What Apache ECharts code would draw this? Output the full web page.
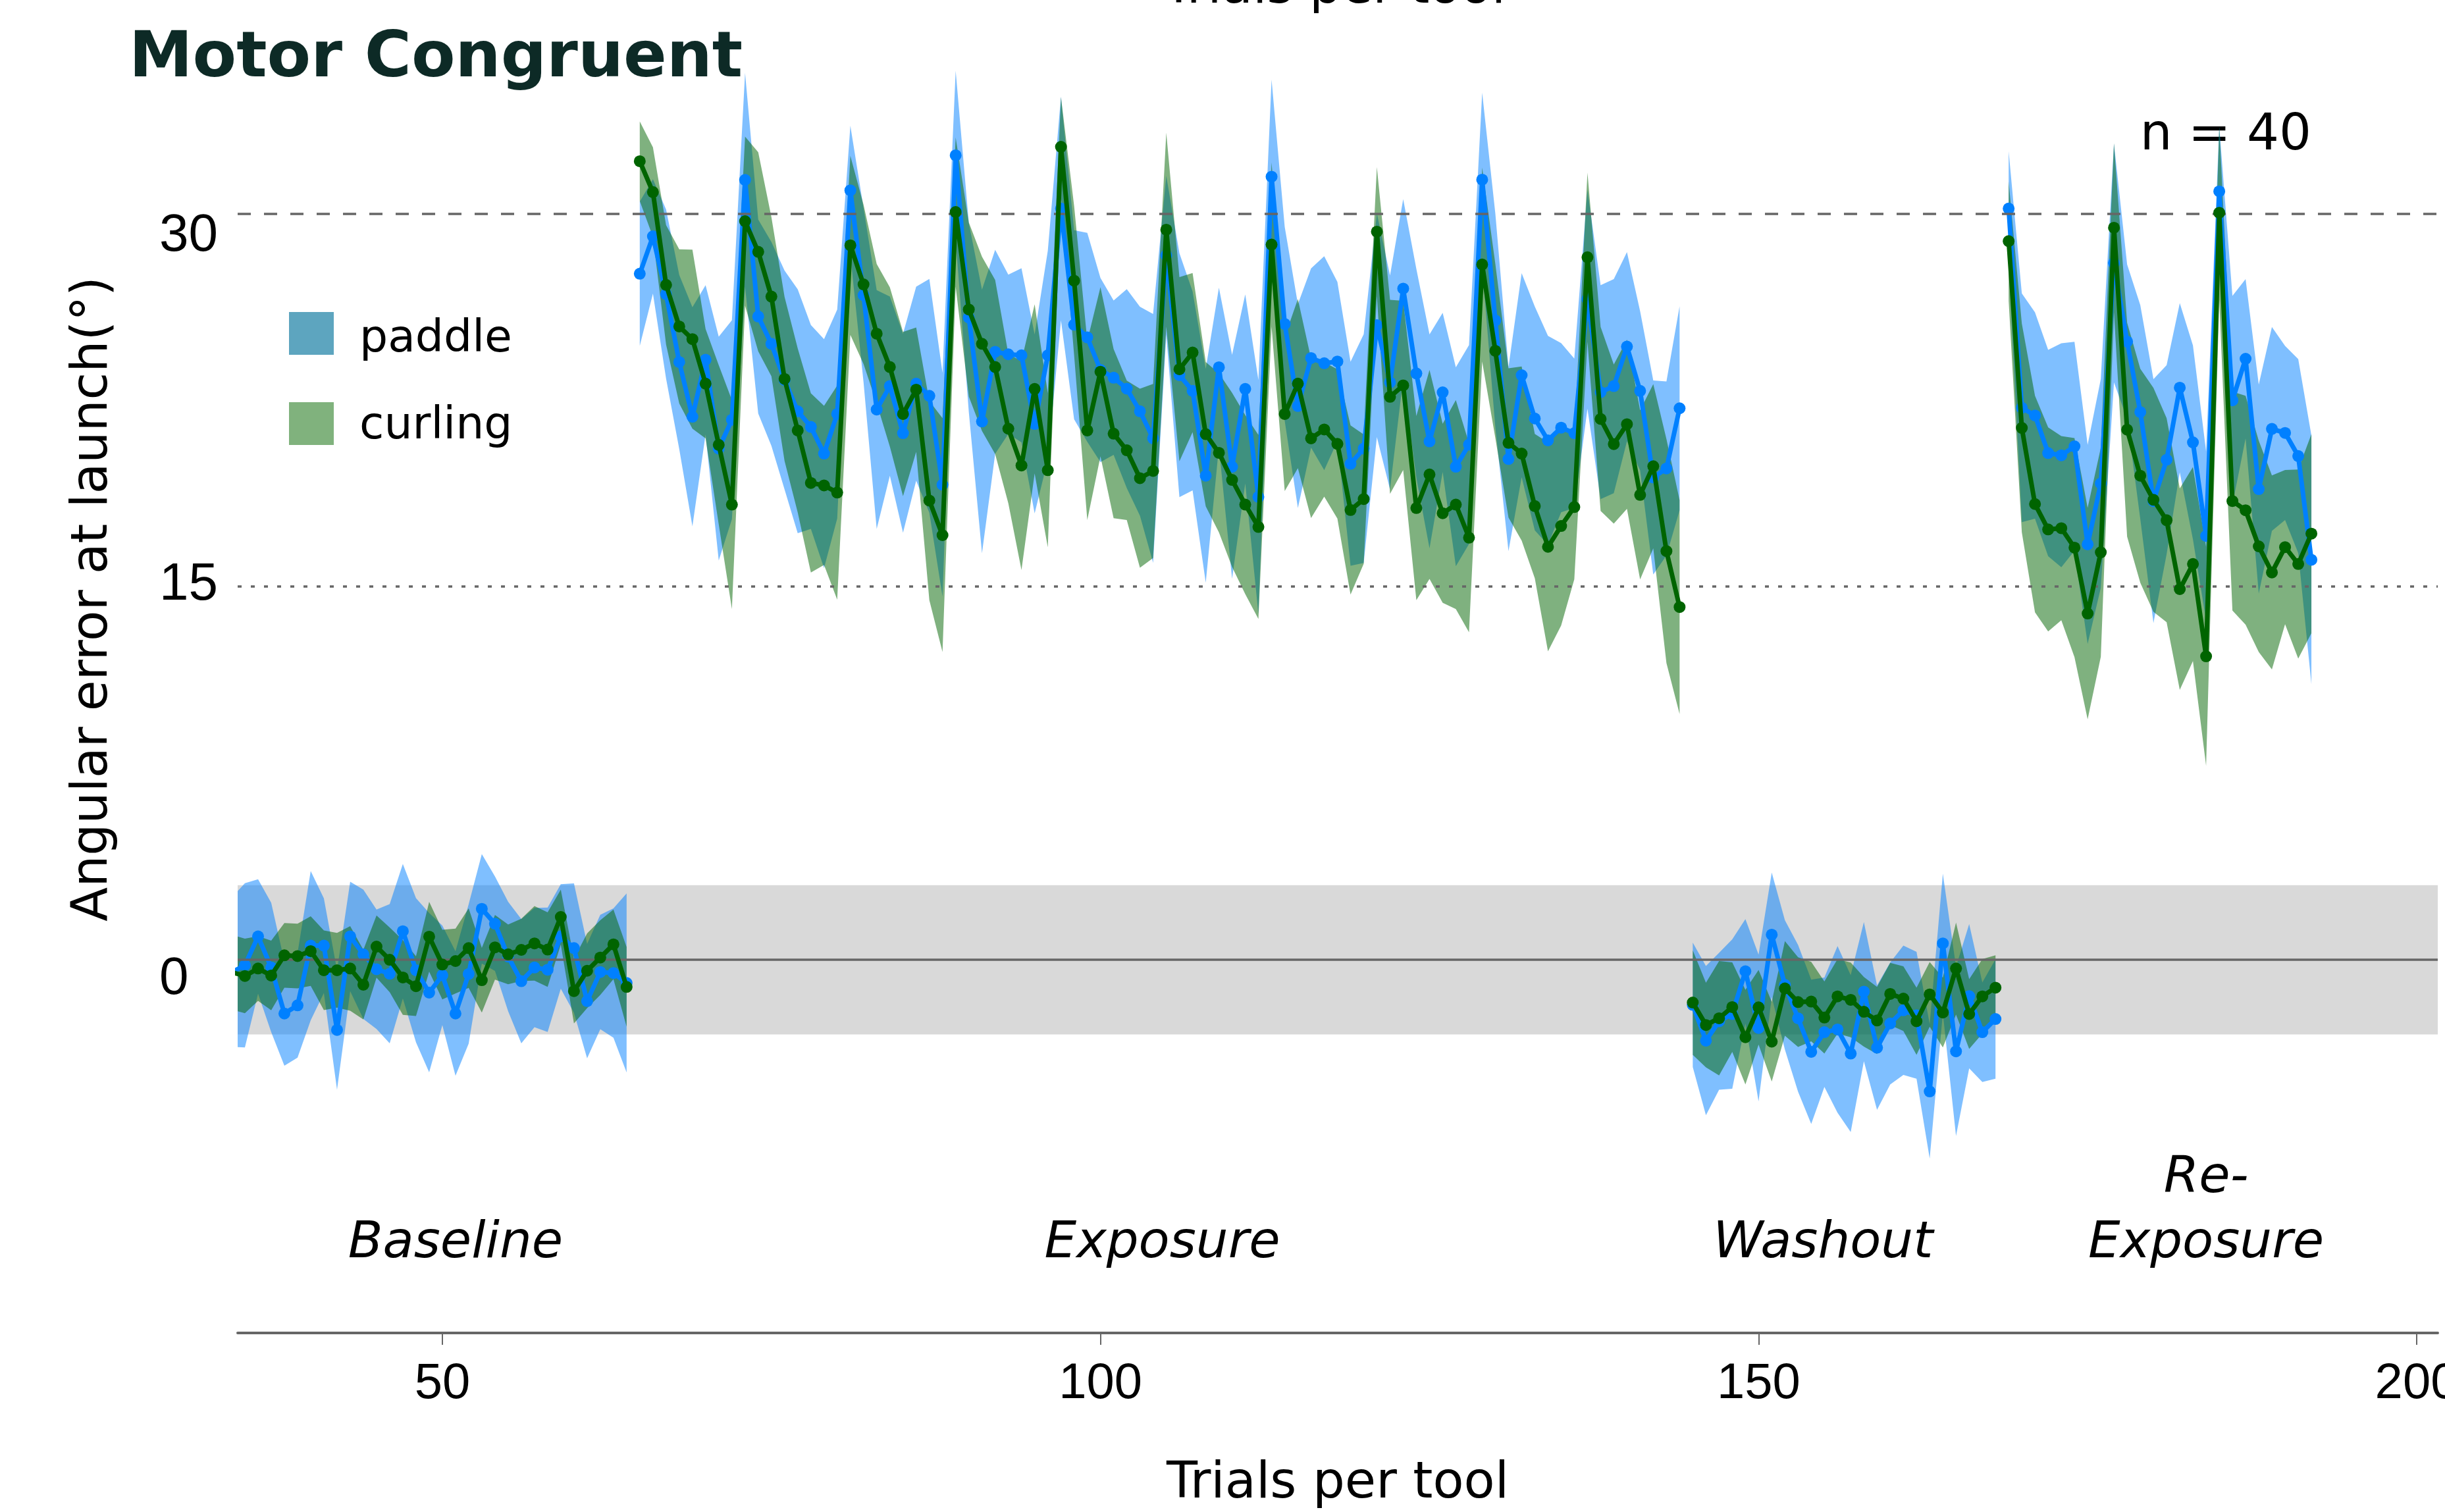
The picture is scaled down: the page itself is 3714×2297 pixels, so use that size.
<!DOCTYPE html>
<html><head><meta charset="utf-8">
<script src="https://cdn.jsdelivr.net/npm/echarts@6/dist/echarts.min.js"></script>
<style>html,body{margin:0;padding:0;background:#fff}#c{width:3714px;height:2297px}</style>
</head><body><div id="c"></div>
<script>
// ---------------- DATA ----------------
const phaseStart = [34, 65, 145, 169];          // first trial of each phase
const phaseNames = ['Baseline', 'Exposure', 'Washout', 'Re-\nExposure'];
const phaseLabelX = [51.0, 104.7, 154.9, 184.0];   // label centres (trial)
const phaseLabelY = [-11.42, -11.42, -11.42, -10.12];

const paddleBaselineMean = [-0.5, -0.22, 0.94, -0.31, -2.16, -1.83, 0.57, 0.57, -2.82, 0.94, 0.22, -0.38, -0.56, 1.15, -0.42, -1.32, -0.62, -2.16, -0.57, 2.05, 1.45, 0.13, -0.86, -0.31, -0.40, 0.94, 0.47, -1.66, -0.49, -0.53, -0.93];
const paddleBaselineSd   = [3.0, 3.3, 2.3, 2.6, 2.1, 2.1, 3.0, 1.9, 2.4, 2.2, 2.6, 2.4, 2.8, 2.7, 2.9, 3.2, 2.0, 2.5, 2.8, 2.2, 1.9, 2.2, 2.5, 2.4, 2.5, 2.1, 2.6, 2.3, 2.3, 2.6, 3.6];
const curlingBaselineMean = [-0.5, -0.65, -0.35, -0.63, 0.18, 0.15, 0.35, -0.42, -0.42, -0.35, -1.0, 0.53, 0.0, -0.71, -1.06, 0.93, -0.19, -0.05, 0.47, -0.82, 0.5, 0.22, 0.4, 0.66, 0.41, 1.72, -1.26, -0.44, 0.09, 0.62, -1.09];
const curlingBaselineSd   = [1.5, 1.5, 1.3, 1.4, 1.3, 1.3, 1.4, 1.6, 1.5, 1.7, 1.4, 1.25, 1.3, 1.5, 1.2, 1.4, 1.4, 1.3, 1.6, 1.3, 1.3, 1.2, 1.25, 1.5, 1.5, 1.1, 1.3, 1.5, 1.5, 1.4, 1.6];

const paddleExposureMean = [
  27.58, 29.08, 26.76, 24.03, 21.83, 24.12, 20.55, 21.71,
  31.35, 25.86, 24.76, 23.31, 22.05, 21.42, 20.35, 21.94,
  30.93, 26.72, 22.12, 23.06, 21.17, 23.16, 22.67, 19.1,
  32.34, 25.82, 21.64, 24.44, 24.34, 24.3, 21.54, 24.3,
  30.2, 25.53, 25.02, 23.71, 23.4, 22.96, 22.05, 20.96,
  28.32, 23.5, 22.87, 19.46, 23.82, 19.82, 22.95, 18.61,
  31.48, 25.56, 22.26, 24.19, 23.98, 24.05, 19.94, 20.55,
  25.51, 23.21, 26.98, 23.57, 20.84, 22.81, 19.82, 20.71,
  31.36, 25.7, 20.13, 23.5, 21.76, 20.88, 21.39, 21.17,
  26.55, 22.82, 23.06, 24.65, 22.87, 19.39, 19.75, 22.17];
const paddleExposureSd = [
  2.9, 2.3, 3.4, 3.5, 4.4, 3.0, 4.5, 4.0,
  4.3, 3.9, 4.1, 4.4, 4.9, 4.1, 4.6, 4.2,
  2.6, 3.5, 4.8, 3.6, 4.0, 3.9, 4.7, 4.5,
  3.4, 3.8, 5.3, 4.1, 3.2, 3.5, 3.6, 4.2,
  4.5, 3.8, 4.2, 3.7, 3.1, 4.0, 4.2, 5.0,
  3.2, 4.9, 4.0, 4.3, 3.2, 4.5, 3.8, 4.7,
  3.9, 3.9, 4.1, 3.6, 4.3, 3.2, 4.1, 4.6,
  4.5, 4.3, 3.6, 4.2, 4.3, 3.2, 4.0, 4.0,
  3.5, 4.3, 3.7, 4.1, 4.5, 4.2, 3.4, 3.0,
  4.4, 4.3, 4.3, 3.8, 3.2, 3.9, 3.5, 4.1];
const curlingExposureMean = [
  32.1, 30.86, 27.13, 25.46, 24.95, 23.16, 20.7, 18.3,
  29.69, 28.46, 26.66, 23.35, 21.28, 19.17, 19.07, 18.78,
  28.72, 27.15, 25.17, 23.83, 21.94, 22.92, 18.46, 17.07,
  30.06, 26.14, 24.76, 23.83, 21.35, 19.87, 22.95, 19.68,
  32.68, 27.3, 21.28, 23.64, 21.15, 20.48, 19.36, 19.65,
  29.35, 23.74, 24.41, 21.13, 20.38, 19.29, 18.3, 17.4,
  28.75, 21.94, 23.16, 20.96, 21.32, 20.74, 18.08, 18.52,
  29.27, 22.63, 23.09, 18.16, 19.51, 17.95, 18.3, 16.97,
  27.95, 24.48, 20.78, 20.35, 18.24, 16.6, 17.44, 18.2,
  28.24, 21.74, 20.73, 21.53, 18.69, 19.84, 16.43, 14.18];
const curlingExposureSd = [
  1.6, 1.8, 2.4, 3.1, 3.6, 2.2, 3.2, 4.2,
  3.4, 4.0, 3.2, 3.3, 3.3, 3.6, 3.2, 4.3,
  3.6, 3.2, 2.8, 3.2, 3.3, 2.5, 4.0, 4.7,
  3.0, 3.5, 3.5, 3.5, 3.0, 4.2, 3.4, 3.1,
  2.0, 3.0, 3.6, 3.4, 3.4, 2.8, 3.6, 3.5,
  3.9, 3.7, 3.2, 2.9, 3.2, 3.5, 3.6, 3.7,
  3.3, 3.1, 3.4, 3.2, 2.7, 3.0, 3.4, 2.6,
  2.6, 3.9, 3.4, 3.7, 4.2, 3.6, 4.2, 3.8,
  3.9, 3.5, 3.0, 3.5, 2.9, 4.2, 4.0, 2.9,
  3.4, 3.7, 3.2, 3.4, 3.4, 3.3, 4.5, 4.3];

const paddleWashoutMean = [-1.81, -3.25, -2.47, -2.18, -0.46, -2.74, 1.01, -1.01, -2.35, -3.70, -2.91, -2.80, -3.77, -1.28, -3.53, -2.56, -2.03, -2.23, -5.29, 0.66, -3.68, -1.46, -2.91, -2.38];
const paddleWashoutSd   = [2.5, 3.0, 2.75, 3.0, 2.1, 2.95, 2.5, 2.6, 2.95, 2.9, 2.2, 3.35, 3.15, 2.8, 2.5, 2.45, 2.6, 2.55, 2.7, 2.8, 3.4, 2.9, 2.0, 2.4];
const curlingWashoutMean = [-1.72, -2.62, -2.35, -1.9, -3.11, -1.91, -3.29, -1.15, -1.70, -1.68, -2.32, -1.47, -1.61, -2.09, -2.44, -1.37, -1.56, -2.47, -1.39, -2.12, -0.35, -2.18, -1.47, -1.12];
const curlingWashoutSd   = [2.1, 1.7, 2.3, 1.8, 1.9, 1.5, 1.6, 1.9, 1.8, 1.6, 1.45, 1.5, 1.5, 1.4, 1.35, 1.25, 1.3, 1.35, 1.3, 1.4, 1.85, 1.4, 1.5, 1.3];

const paddleReexposureMean = [30.2, 22.19, 21.88, 20.37, 20.28, 20.64, 16.7, 19.15, 28.01, 24.85, 22.02, 18.44, 20.1, 23.0, 20.8, 17.04, 30.89, 22.49, 24.16, 18.92, 21.34, 21.18, 20.25, 16.08];
const paddleReexposureSd   = [2.3, 4.6, 4.15, 4.15, 4.5, 4.2, 4.0, 4.2, 4.8, 3.1, 4.3, 4.9, 3.8, 3.4, 3.9, 3.4, 2.6, 4.2, 3.2, 4.2, 4.1, 3.5, 3.9, 5.0];
const curlingReexposureMean = [28.89, 21.38, 18.32, 17.30, 17.35, 16.57, 13.92, 16.38, 29.43, 21.31, 19.46, 18.49, 17.67, 14.9, 15.91, 12.2, 30.03, 18.44, 18.07, 16.62, 15.57, 16.59, 15.91, 17.13];
const curlingReexposureSd   = [2.4, 4.2, 4.35, 4.1, 3.7, 4.4, 4.25, 4.2, 3.4, 4.3, 4.3, 4.5, 4.1, 4.05, 3.9, 4.4, 3.5, 4.4, 4.6, 4.25, 3.9, 3.1, 3.8, 4.0];

const xTickValues = [50, 100, 150, 200];
const yTickValues = [30, 15, 0];
const yTickLabels = ['30', '15', '0'];
const refLines = [30, 15, 0];
const bandLimits = [-3, 3];
const legendNames = ['paddle', 'curling'];
const sampleText = 'n = 40';

// ---------------- LAYOUT / STYLE ----------------
const X_MIN = 34.45, X_MAX = 201.6, Y_MIN = -15, Y_MAX = 38;
const BLUE = '#0080ff', GREEN = '#006400';
const BLUE_BAND = 'rgba(0,128,255,0.5)', GREEN_BAND = 'rgba(0,100,0,0.5)';
const FONT = 'DejaVu Sans', TICKFONT = 'Liberation Sans';

const paddleMean = [paddleBaselineMean, paddleExposureMean, paddleWashoutMean, paddleReexposureMean];
const paddleSd = [paddleBaselineSd, paddleExposureSd, paddleWashoutSd, paddleReexposureSd];
const curlingMean = [curlingBaselineMean, curlingExposureMean, curlingWashoutMean, curlingReexposureMean];
const curlingSd = [curlingBaselineSd, curlingExposureSd, curlingWashoutSd, curlingReexposureSd];

function bandSeries(name, means, sds, color, z) {
  const rows = [];
  phaseStart.forEach((s, pi) => means[pi].forEach((m, i) => rows.push([s + i, m - sds[pi][i], m + sds[pi][i], pi, i])));
  return {
    type: 'custom', name, z, clip: true, silent: true, animation: false,
    data: rows,
    encode: { x: 0, y: [1, 2] },
    renderItem: (params, api) => {
      if (api.value(4) !== 0) return;
      const pi = api.value(3);
      const ph = rows.filter(r => r[3] === pi);
      const top = ph.map(r => api.coord([r[0], r[2]]));
      const bot = ph.map(r => api.coord([r[0], r[1]])).reverse();
      return { type: 'polygon', shape: { points: top.concat(bot) }, style: { fill: color } };
    }
  };
}
function lineSeries(name, means, color, z) {
  return phaseStart.map((s, pi) => ({
    type: 'line', name, z, clip: true, silent: true, animation: false,
    data: means[pi].map((v, i) => [s + i, v]),
    symbol: 'circle', symbolSize: 18, showSymbol: true,
    lineStyle: { width: 7, color }, itemStyle: { color }
  }));
}

const guideSeries = {
  type: 'line', z: 1, silent: true, animation: false, symbol: 'none',
  data: [[X_MIN, 0]], lineStyle: { opacity: 0 },
  markArea: { silent: true, itemStyle: { color: '#d9d9d9' },
    data: [[{ xAxis: X_MIN, yAxis: bandLimits[0] }, { xAxis: X_MAX, yAxis: bandLimits[1] }]] },
  markLine: { silent: true, symbol: 'none', label: { show: false }, animation: false,
    data: [
      { yAxis: refLines[0], lineStyle: { type: [20, 20], color: '#666', width: 3.5 } },
      { yAxis: refLines[1], lineStyle: { type: [6, 14], color: '#666', width: 3.5 } },
      { yAxis: refLines[2], lineStyle: { type: 'solid', color: '#666', width: 3.5 } }
    ] }
};

const chart = echarts.init(document.getElementById('c'), null, { renderer: 'canvas' });
chart.setOption({
  animation: false,
  backgroundColor: '#fff',
  grid: { left: 361, right: 11, top: 22, bottom: 272, containLabel: false, outerBoundsMode: 'none' },
  xAxis: {
    type: 'value', min: X_MIN, max: X_MAX,
    axisLine: { show: true, onZero: false, lineStyle: { color: '#666', width: 4 } },
    axisTick: { show: true, customValues: xTickValues, length: 18, lineStyle: { color: '#666', width: 2 } },
    axisLabel: { customValues: xTickValues, fontFamily: TICKFONT, fontSize: 76, color: '#000', margin: 78, verticalAlign: 'middle' },
    splitLine: { show: false },
    name: 'Trials per tool', nameLocation: 'middle', nameGap: 230,
    nameTextStyle: { fontFamily: FONT, fontSize: 77, color: '#000', verticalAlign: 'middle' }
  },
  yAxis: {
    type: 'value', min: Y_MIN, max: Y_MAX,
    axisLine: { show: false }, axisTick: { show: false }, axisLabel: { show: false }, splitLine: { show: false }
  },
  series: [
    guideSeries,
    bandSeries('paddle', paddleMean, paddleSd, BLUE_BAND, 2),
    bandSeries('curling', curlingMean, curlingSd, GREEN_BAND, 3),
    ...lineSeries('paddle', paddleMean, BLUE, 4),
    ...lineSeries('curling', curlingMean, GREEN, 5)
  ]
});

// ---------- text annotations placed through the chart's own scales ----------
const yLabelShift = [35, -2, 30];
const graphics = [];
yTickValues.forEach((v, i) => {
  const p = chart.convertToPixel({ gridIndex: 0 }, [X_MIN, v]);
  graphics.push({ type: 'text', left: 242, top: p[1] + yLabelShift[i] - 40, silent: true,
    style: { text: yTickLabels[i], font: '80px "' + TICKFONT + '"', fill: '#000', textVerticalAlign: 'top' } });
});
phaseNames.forEach((n, i) => {
  const p = chart.convertToPixel({ gridIndex: 0 }, [phaseLabelX[i], phaseLabelY[i]]);
  graphics.push({ type: 'text', x: p[0], y: p[1], silent: true,
    style: { text: n, fontFamily: FONT, fontSize: 77, fontStyle: 'italic', fill: '#000',
      align: 'center', verticalAlign: 'middle', lineHeight: 99 } });
});
graphics.push(
  { type: 'text', x: 196, y: 91, silent: true,
    style: { text: 'Motor Congruent', fontFamily: FONT, fontSize: 97, fontWeight: 'bold', fill: '#0d2a26', verticalAlign: 'middle' } },
  { type: 'text', x: 142, y: 910, rotation: Math.PI / 2, silent: true,
    style: { text: 'Angular error at launch(°)', fontFamily: FONT, fontSize: 76, fill: '#000', align: 'center', verticalAlign: 'middle' } },
  { type: 'text', x: 3511, y: 207, silent: true,
    style: { text: sampleText, fontFamily: FONT, fontSize: 77, fill: '#000', align: 'right', verticalAlign: 'middle' } },
  { type: 'text', x: 2027, y: -16, silent: true,
    style: { text: 'Trials per tool', fontFamily: FONT, fontSize: 77, fill: '#000', align: 'center', verticalAlign: 'middle' } },
  { type: 'rect', shape: { x: 439, y: 474, width: 68, height: 65 }, style: { fill: '#5da5bf' }, silent: true },
  { type: 'rect', shape: { x: 439, y: 611, width: 68, height: 65 }, style: { fill: '#80b27d' }, silent: true },
  { type: 'text', x: 546, y: 516, silent: true,
    style: { text: legendNames[0], fontFamily: FONT, fontSize: 68, fill: '#000', verticalAlign: 'middle' } },
  { type: 'text', x: 546, y: 648, silent: true,
    style: { text: legendNames[1], fontFamily: FONT, fontSize: 68, fill: '#000', verticalAlign: 'middle' } }
);
chart.setOption({ graphic: graphics });
</script>
</body></html>
